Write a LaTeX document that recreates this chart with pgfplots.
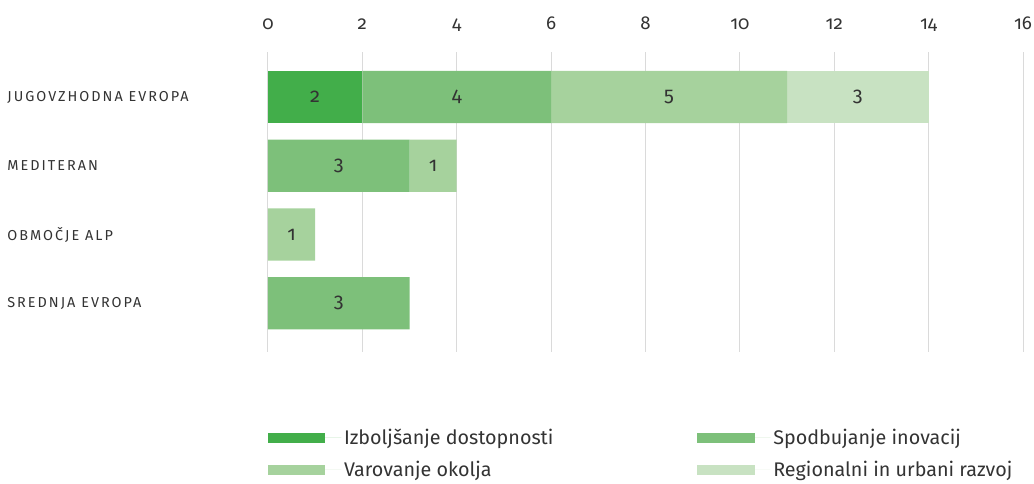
\documentclass[border=0pt]{standalone}
\usepackage{fontspec}
\setmainfont{Fira Sans}
\newfontfamily\onum{Fira Sans}[Numbers=OldStyle]
\usepackage{pgfplots}
\pgfplotsset{compat=1.18}

\definecolor{gA}{RGB}{66,174,74}
\definecolor{gB}{RGB}{125,192,122}
\definecolor{gC}{RGB}{166,210,157}
\definecolor{gD}{RGB}{200,226,194}
\definecolor{txt}{RGB}{51,51,51}
\definecolor{gridc}{RGB}{218,218,218}

% same box for bars and for the overlay with labels + legend
\pgfplotsset{
  chartframe/.style={
    scale only axis, width=566.25pt, height=225pt,
    xmin=0, xmax=16, ymin=-0.71, ymax=3.655,
  },
}

\begin{document}
\begin{tikzpicture}
\useasboundingbox (-201pt,-99pt) rectangle (574.5pt,264pt);
\begin{axis}[chartframe,
  xbar stacked, bar width=0.76,
  axis line style={draw=none}, tick style={draw=none},
  xmajorgrids, major grid style={gridc, line width=0.75pt},
  xtick={0,2,...,16}, xticklabel pos=top,
  /pgf/number format/assume math mode=true,
  xticklabel style={font=\onum\fontsize{14}{16}\selectfont, text=txt, anchor=base, yshift=17pt},
  ytick={0,1,2,3},
  yticklabels={SREDNJA EVROPA, OBMOČJE ALP, MEDITERAN, JUGOVZHODNA EVROPA},
  yticklabel style={font=\fontsize{10.8}{12}\selectfont\addfontfeatures{LetterSpace=14}, text=txt, anchor=west, xshift=-199pt},
]
% Izboljsanje dostopnosti
\addplot[fill=gA, draw=none] coordinates {(0,0) (0,1) (0,2) (2,3)};
% Spodbujanje inovacij
\addplot[fill=gB, draw=none] coordinates {(3,0) (0,1) (3,2) (4,3)};
% Varovanje okolja
\addplot[fill=gC, draw=none] coordinates {(0,0) (1,1) (1,2) (5,3)};
% Regionalni in urbani razvoj
\addplot[fill=gD, draw=none] coordinates {(0,0) (0,1) (0,2) (3,3)};
\end{axis}

\begin{axis}[chartframe, hide axis,
  legend columns=2,
  legend cell align=left,
  legend style={draw=none, fill=none, at={(0,-0.247)}, anchor=north west,
    inner sep=0pt, outer sep=0pt, font=\fontsize{14.8}{17}\selectfont, text=txt, row sep=7pt},
  legend image code/.code={\fill[#1] (0pt,-3.75pt) rectangle (43pt,3.75pt); \path (0pt,0pt) -- (55pt,0pt);},
]
\addplot[draw=none, forget plot, nodes near coords, point meta=explicit symbolic,
  every node near coord/.append style={anchor=center, font=\onum\fontsize{15}{17}\selectfont, text=txt}]
  coordinates {(1,3) [2] (4,3) [4] (8.5,3) [5] (12.5,3) [3] (1.5,2) [3] (3.5,2) [1] (0.5,1) [1] (1.5,0) [3]};
\addlegendimage{fill=gA, draw=none}
\addlegendentry{\makebox[263pt][l]{Izboljšanje dostopnosti}}
\addlegendimage{fill=gB, draw=none}
\addlegendentry{Spodbujanje inovacij}
\addlegendimage{fill=gC, draw=none}
\addlegendentry{\makebox[263pt][l]{Varovanje okolja}}
\addlegendimage{fill=gD, draw=none}
\addlegendentry{Regionalni in urbani razvoj}
\end{axis}
\end{tikzpicture}
\end{document}
